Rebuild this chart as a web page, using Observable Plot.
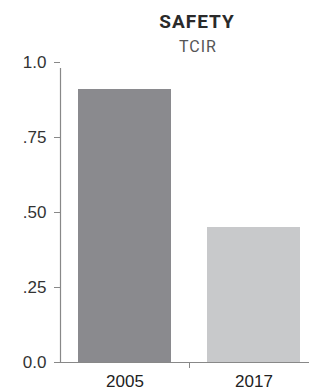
<!DOCTYPE html>
<html>
<head>
<meta charset="utf-8">
<script src="https://cdn.jsdelivr.net/npm/d3@7"></script>
<script src="https://cdn.jsdelivr.net/npm/@observablehq/plot@0.6"></script>
<style>
  html, body { margin: 0; padding: 0; background: #fff; }
  #wrap { position: relative; width: 309px; height: 390px; overflow: hidden; }
  #head { position: relative; width: 309px; height: 55px; }
  #title { position: absolute; left: 0; width: 394px; top: 11px; text-align: center;
           font-family: Roboto, "Liberation Sans", sans-serif; font-weight: 700; font-size: 19px; letter-spacing: 1px; color: #2a2a2a; line-height: 22px; }
  #subtitle { position: absolute; left: 0; width: 396px; top: 37px; text-align: center;
           font-family: Roboto, "Liberation Sans", sans-serif; font-weight: 400; font-size: 16px; letter-spacing: 1px; color: #555; line-height: 19px; }
</style>
</head>
<body>
<div id="wrap">
  <div id="head">
    <div id="title">SAFETY</div>
    <div id="subtitle">TCIR</div>
  </div>
  <div id="chart"></div>
</div>
<script>
const categories = ["2005", "2017"];
const values = [0.91, 0.45];
const barColors = ["#8a8a8e", "#c8c9cb"];
const yTicks = [0, 0.25, 0.5, 0.75, 1];
const yTickLabels = ["0.0", ".25", ".50", ".75", "1.0"];

const data = categories.map((c, i) => ({ cat: c, i, value: values[i], color: barColors[i] }));

const chart = Plot.plot({
  width: 309,
  height: 335,
  marginLeft: 60,
  marginRight: 0,
  marginTop: 7,
  marginBottom: 28,
  style: { fontFamily: "'Liberation Sans', Arial, sans-serif", fontSize: "17px", color: "#333", background: "#fff", overflow: "visible" },
  x: { type: "linear", domain: [0, 2], range: [60, 318], axis: null },
  y: { domain: [0, 1], range: [307, 7], axis: null },
  marks: [
    Plot.rectY(data, { x1: "i", x2: d => d.i + 1, y1: 0, y2: "value", fill: "color", insetLeft: 18, insetRight: 18 }),
    Plot.ruleY([0], { stroke: "#888", strokeWidth: 1.2 }),
    Plot.ruleX([0], { y1: 0, y2: 1, stroke: "#888", strokeWidth: 1.2, insetBottom: -6 }),
    Plot.axisY({ ticks: yTicks, tickFormat: (d) => yTickLabels[yTicks.indexOf(d)], tickSize: 6, tickPadding: 8, stroke: "#888", fill: "#333", fontSize: 17, label: null }),
    Plot.axisX({ ticks: [1], tickFormat: () => "", tickSize: 6, stroke: "#888", label: null }),
    Plot.axisX({ ticks: categories.map((c, i) => i + 0.5), tickFormat: (d) => categories[Math.floor(d)], tickSize: 0, tickPadding: 12, fill: "#222", fontSize: 17, label: null })
  ]
});
document.getElementById("chart").appendChild(chart);
</script>
</body>
</html>
